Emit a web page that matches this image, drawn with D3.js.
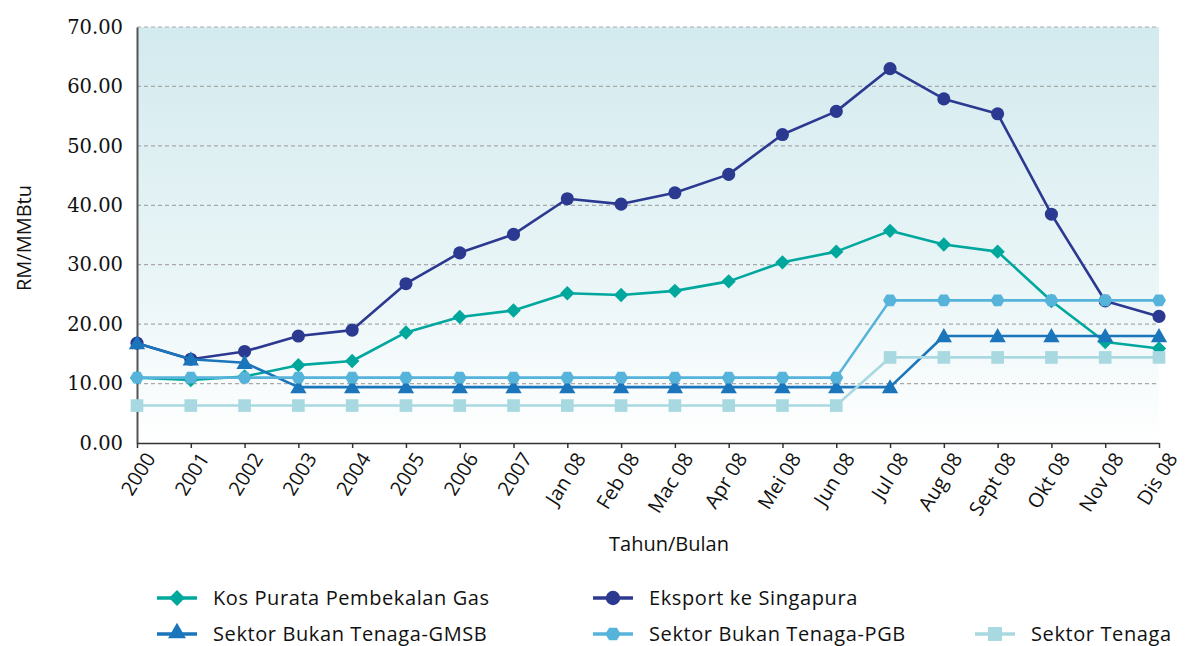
<!DOCTYPE html>
<html>
<head>
<meta charset="utf-8">
<script src="https://cdn.jsdelivr.net/npm/d3@7"></script>
<style>
  body { margin: 0; background: #fff; }
  svg { display: block; }
  .ytick { font-family: "DejaVu Serif", serif; font-size: 19.5px; fill: #111; }
  .xtick { font-family: "Open Sans", "Noto Sans", sans-serif; font-size: 20px; fill: #111; }
  .lbl { font-family: "Open Sans", "Noto Sans", sans-serif; font-size: 20px; fill: #111; }
</style>
</head>
<body>
<svg id="chart" width="1186" height="646"></svg>
<script>
const categories = ["2000", "2001", "2002", "2003", "2004", "2005", "2006", "2007",
    "Jan 08", "Feb 08", "Mac 08", "Apr 08", "Mei 08", "Jun 08", "Jul 08", "Aug 08",
    "Sept 08", "Okt 08", "Nov 08", "Dis 08"];

const eksport = [16.8, 14.1, 15.4, 18.0, 19.0, 26.8, 32.0, 35.1, 41.1, 40.2,
    42.1, 45.2, 51.9, 55.8, 63.0, 57.9, 55.4, 38.5, 23.9, 21.3];
const kosPurata = [11.0, 10.6, 11.2, 13.1, 13.8, 18.6, 21.2, 22.3, 25.2, 24.9,
    25.6, 27.2, 30.4, 32.2, 35.7, 33.4, 32.2, 23.9, 17.0, 15.9];
const gmsb = [16.8, 14.1, 13.5, 9.4, 9.4, 9.4, 9.4, 9.4, 9.4, 9.4,
    9.4, 9.4, 9.4, 9.4, 9.4, 18.0, 18.0, 18.0, 18.0, 18.0];
const pgb = [11.0, 11.0, 11.0, 11.0, 11.0, 11.0, 11.0, 11.0, 11.0, 11.0,
    11.0, 11.0, 11.0, 11.0, 24.0, 24.0, 24.0, 24.0, 24.0, 24.0];
const tenaga = [6.3, 6.3, 6.3, 6.3, 6.3, 6.3, 6.3, 6.3, 6.3, 6.3,
    6.3, 6.3, 6.3, 6.3, 14.4, 14.4, 14.4, 14.4, 14.4, 14.4];

const yTicks = [0, 10, 20, 30, 40, 50, 60, 70];

// drawn bottom to top
const series = [
    { name: "Eksport ke Singapura", values: eksport, color: "#2b3990", marker: "circle", legend: [593, 598] },
    { name: "Kos Purata Pembekalan Gas", values: kosPurata, color: "#00a79d", marker: "diamond", legend: [157, 598] },
    { name: "Sektor Bukan Tenaga-GMSB", values: gmsb, color: "#1b75bb", marker: "triangle", legend: [157, 634] },
    { name: "Sektor Bukan Tenaga-PGB", values: pgb, color: "#56b3da", marker: "hexagon", legend: [593, 634] },
    { name: "Sektor Tenaga", values: tenaga, color: "#a9d9e0", marker: "square", legend: [975, 634] },
];

const plotL = 137, plotR = 1159, plotT = 27, plotB = 443;

const svg = d3.select("#chart");

const x = d3.scalePoint().domain(categories).range([plotL, plotR]);
const y = d3.scaleLinear().domain([0, 70]).range([plotB, plotT]);

const defs = svg.append("defs");
const grad = defs.append("linearGradient")
    .attr("id", "bg").attr("x1", 0).attr("y1", 0).attr("x2", 0).attr("y2", 1);
grad.append("stop").attr("offset", "0%").attr("stop-color", "#d3eaee");
grad.append("stop").attr("offset", "60%").attr("stop-color", "#e9f5f7");
grad.append("stop").attr("offset", "100%").attr("stop-color", "#ffffff");

svg.append("rect")
    .attr("x", plotL).attr("y", plotT)
    .attr("width", plotR - plotL).attr("height", plotB - plotT)
    .attr("fill", "url(#bg)");

// gridlines
svg.append("g")
    .selectAll("line")
    .data(yTicks.filter(t => t > 0))
    .join("line")
    .attr("x1", plotL).attr("x2", plotR)
    .attr("y1", d => y(d)).attr("y2", d => y(d))
    .attr("stroke", "#a9a9a9")
    .attr("stroke-width", 1.2)
    .attr("stroke-dasharray", "4,3");

// y axis
const yAxis = svg.append("g")
    .attr("transform", `translate(${plotL},0)`)
    .call(d3.axisLeft(y).tickValues(yTicks).tickSize(0).tickPadding(14).tickFormat(d3.format(".2f")));
yAxis.select(".domain").attr("stroke", "#555").attr("stroke-width", 2);
yAxis.selectAll("text").attr("class", "ytick").attr("fill", null);

// x axis
const xAxis = svg.append("g")
    .attr("transform", `translate(0,${plotB})`)
    .call(d3.axisBottom(x).tickSize(5).tickSizeOuter(0));
xAxis.select(".domain").attr("stroke", "#333").attr("stroke-width", 1.5);
xAxis.selectAll(".tick line").attr("stroke", "#333").attr("stroke-width", 1.5);
xAxis.selectAll("text")
    .attr("class", "xtick")
    .attr("fill", null)
    .attr("text-anchor", "end")
    .attr("dx", 0).attr("dy", 0)
    .attr("transform", "translate(12,11) rotate(-58)");

svg.append("text")
    .attr("class", "lbl")
    .attr("x", 669).attr("y", 551)
    .attr("font-size", 20.5)
    .attr("text-anchor", "middle")
    .text("Tahun/Bulan");

svg.append("text")
    .attr("class", "lbl")
    .attr("font-size", 16.5)
    .attr("transform", "translate(31,238) rotate(-90)")
    .attr("text-anchor", "middle")
    .text("RM/MMBtu");

const symbols = {
    circle: d3.symbol().type(d3.symbolCircle).size(135),
    triangle: d3.symbol().type(d3.symbolTriangle).size(115),
    square: d3.symbol().type(d3.symbolSquare).size(160),
};

function hexagon(r) {
    const pts = d3.range(6).map(i => {
        const a = i * Math.PI / 3;
        return [r * Math.cos(a), r * Math.sin(a) * 0.95];
    });
    return "M" + pts.map(p => p.join(",")).join("L") + "Z";
}

function diamond(r) {
    return `M0,${-r}L${r},0L0,${r}L${-r},0Z`;
}

function markerPath(kind) {
    if (kind === "hexagon") return hexagon(7);
    if (kind === "diamond") return diamond(7.2);
    return symbols[kind]();
}

const line = d3.line()
    .x((d, i) => x(categories[i]))
    .y(d => y(d));

series.forEach(s => {
    const g = svg.append("g");
    g.append("path")
        .attr("d", line(s.values))
        .attr("fill", "none")
        .attr("stroke", s.color)
        .attr("stroke-width", 2.6)
        .attr("stroke-linejoin", "round");
    g.selectAll("path.mk")
        .data(s.values)
        .join("path")
        .attr("class", "mk")
        .attr("d", markerPath(s.marker))
        .attr("transform", (d, i) => `translate(${x(categories[i])},${y(d) + (s.marker === "triangle" ? 1.5 : 0)})`)
        .attr("fill", s.color);
});

// legend
const lg = svg.append("g");
series.forEach(s => {
    const [lx, ly] = s.legend;
    const item = lg.append("g").attr("transform", `translate(${lx},${ly})`);
    item.append("line")
        .attr("x1", 0).attr("x2", 40)
        .attr("stroke", s.color).attr("stroke-width", 3.5);
    item.append("path")
        .attr("d", markerPath(s.marker))
        .attr("transform", `translate(20,${s.marker === "triangle" ? -1 : 0}) scale(1.1)`)
        .attr("fill", s.color);
    item.append("text")
        .attr("class", "lbl")
        .attr("x", 56).attr("y", 7)
        .attr("font-size", 21)
        .attr("letter-spacing", 0.6)
        .attr("fill", "#111")
        .text(s.name);
});
</script>
</body>
</html>
